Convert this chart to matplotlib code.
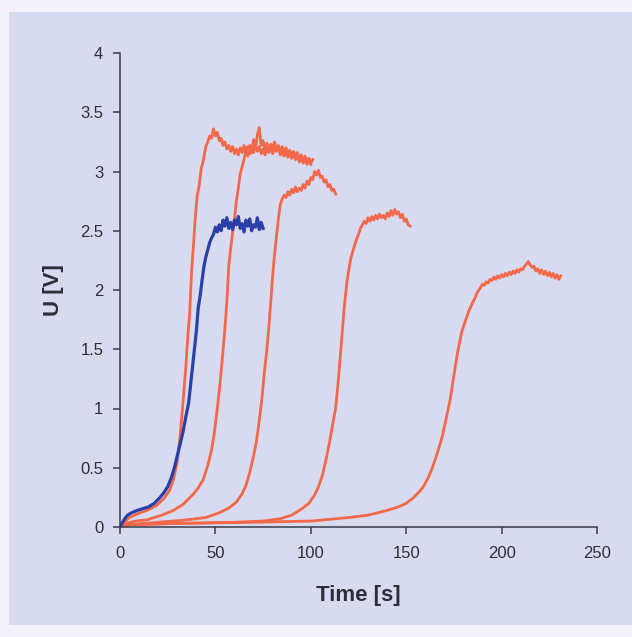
import matplotlib
matplotlib.use('Agg')
import matplotlib.pyplot as plt
from matplotlib.patches import Rectangle

# blue run (time in s, voltage in V)
blue_t = [0, 1, 2.5, 4, 6, 9, 12, 15, 18, 21, 23, 25, 27, 28.5, 30, 31.5, 33, 34.5, 36, 37, 38, 39,
          40, 41, 42, 43, 44, 45, 46, 47,
          48, 49, 50, 51, 52, 53, 54, 55, 56, 57, 58, 59, 60, 61, 62, 63, 64, 65, 66, 67, 68,
          69, 70, 71, 72, 73, 74, 75]
blue_u = [0.0, 0.03, 0.07, 0.10, 0.12, 0.14, 0.155, 0.17, 0.2, 0.25, 0.29, 0.34, 0.42, 0.5, 0.6,
          0.7, 0.8, 0.93, 1.05, 1.2, 1.35, 1.5, 1.65, 1.85, 1.95, 2.08, 2.2, 2.28, 2.34, 2.4,
          2.44, 2.47, 2.53, 2.49, 2.55, 2.50, 2.59, 2.54, 2.61, 2.52, 2.57, 2.51, 2.59, 2.55,
          2.62, 2.52, 2.56, 2.49, 2.59, 2.54, 2.60, 2.50, 2.55, 2.53, 2.61, 2.51, 2.57, 2.52]

# red runs
red1_t = [0, 2, 5, 9, 14, 19, 23, 26, 28, 30, 31.4, 32.5, 33.5, 34.5, 35.5, 36.5, 37.5, 38.5,
          39.5, 40.5, 41.5, 42.5, 43.5, 44.5,
          45, 46, 47, 48, 49, 50, 51, 52, 53, 54, 55, 56, 57, 58, 59, 60, 61, 62, 63, 64, 65,
          66, 67, 68, 69, 70, 71, 72, 73, 74, 75, 76, 77, 78, 79, 80, 81, 82, 83, 84, 85, 86,
          87, 88, 89, 90, 91, 92, 93, 94, 95, 96, 97, 98, 99, 100, 101]
red1_u = [0.0, 0.04, 0.08, 0.11, 0.14, 0.18, 0.24, 0.31, 0.40, 0.55, 0.75, 0.95, 1.15, 1.35,
          1.6, 1.8, 2.15, 2.38, 2.62, 2.8, 2.88, 3.02, 3.08, 3.17,
          3.21, 3.25, 3.30, 3.28, 3.36, 3.30, 3.33, 3.26, 3.28, 3.22, 3.25, 3.19, 3.22, 3.17,
          3.21, 3.15, 3.19, 3.14, 3.20, 3.16, 3.22, 3.17, 3.21, 3.15, 3.20, 3.16, 3.22, 3.17,
          3.21, 3.15, 3.19, 3.14, 3.20, 3.16, 3.21, 3.15, 3.19, 3.17, 3.21, 3.14, 3.18, 3.13,
          3.17, 3.12, 3.16, 3.11, 3.15, 3.10, 3.14, 3.08, 3.13, 3.07, 3.12, 3.06, 3.11, 3.07,
          3.10]

red2_t = [0, 3, 8, 14, 22, 28, 33, 38, 41, 43.6, 46, 48, 49.5, 51, 52.5, 54, 55, 56, 57, 58, 59,
          60, 61, 62, 63, 64,
          65, 66, 67, 68, 69, 70, 71, 72, 73, 74, 75, 76, 77, 78, 79, 80, 81, 82, 83, 84, 85,
          86, 87, 88, 89, 90, 91, 92, 93, 94, 95, 96, 97, 98, 99, 100]
red2_u = [0.0, 0.03, 0.05, 0.06, 0.10, 0.14, 0.19, 0.27, 0.33, 0.40, 0.52, 0.65, 0.8, 1.0, 1.22,
          1.49, 1.68, 1.9, 2.2, 2.35, 2.48, 2.6, 2.75, 2.86, 2.98, 3.04,
          3.10, 3.18, 3.13, 3.22, 3.16, 3.27, 3.19, 3.31, 3.37, 3.22, 3.26, 3.18, 3.24, 3.17,
          3.23, 3.19, 3.25, 3.18, 3.22, 3.16, 3.21, 3.15, 3.20, 3.14, 3.18, 3.13, 3.17, 3.12,
          3.16, 3.10, 3.14, 3.08, 3.13, 3.07, 3.11, 3.06]

red3_t = [0, 5, 20, 35, 45, 52, 57, 61, 64, 66, 68, 70, 71.6, 73, 74.3, 75.5, 76.9, 78, 79, 80,
          81, 82, 83,
          84, 85, 86, 87, 88, 89, 90, 91, 92, 93, 94, 95, 96, 97, 98, 99, 100, 101, 102, 103,
          104, 105, 106, 107, 108, 109, 110, 111, 112, 113]
red3_u = [0.0, 0.02, 0.04, 0.06, 0.08, 0.12, 0.16, 0.21, 0.28, 0.35, 0.46, 0.6, 0.73, 0.9, 1.07,
          1.28, 1.49, 1.68, 1.9, 2.12, 2.3, 2.45, 2.6,
          2.72, 2.77, 2.80, 2.78, 2.83, 2.80, 2.85, 2.82, 2.87, 2.83, 2.86, 2.84, 2.89, 2.86,
          2.92, 2.89, 2.95, 2.93, 3.00, 2.97, 3.01, 2.95, 2.96, 2.91, 2.93, 2.87, 2.89, 2.84,
          2.85, 2.81]

red4_t = [0, 5, 30, 60, 75, 84, 90, 95, 99, 102, 104, 106, 108, 110, 111.5, 113, 114.5, 116,
          117.5, 119, 121, 123,
          124, 125, 126, 127, 128, 129, 130, 131, 132, 133, 134, 135, 136, 137, 138, 139, 140,
          141, 142, 143, 144, 145, 146, 147, 148, 149, 150, 151, 152]
red4_u = [0.0, 0.02, 0.03, 0.04, 0.05, 0.07, 0.10, 0.15, 0.20, 0.27, 0.34, 0.43, 0.57, 0.73,
          0.87, 1.0, 1.25, 1.55, 1.85, 2.08, 2.27, 2.38,
          2.43, 2.47, 2.52, 2.55, 2.58, 2.56, 2.61, 2.58, 2.62, 2.59, 2.63, 2.60, 2.64, 2.61,
          2.63, 2.60, 2.65, 2.62, 2.67, 2.63, 2.68, 2.64, 2.66, 2.61, 2.64, 2.58, 2.60, 2.55,
          2.54]

red5_t = [0, 5, 30, 70, 100, 120, 130, 140, 146, 150, 154, 157, 159, 161, 163, 165, 167, 169,
          171, 173, 175, 177, 179, 181, 183, 185,
          186, 187, 188, 189, 190, 191, 192, 193, 194, 195, 196, 197, 198, 199, 200, 201, 202,
          203, 204, 205, 206, 207, 208, 209, 210, 211, 212, 213, 214, 215, 216, 217, 218, 219,
          220, 221, 222, 223, 224, 225, 226, 227, 228, 229, 230, 231]
red5_u = [0.0, 0.02, 0.03, 0.04, 0.05, 0.08, 0.10, 0.14, 0.17, 0.20, 0.25, 0.30, 0.34, 0.40,
          0.47, 0.56, 0.66, 0.77, 0.92, 1.07, 1.28, 1.48, 1.64, 1.74, 1.83, 1.90,
          1.93, 1.97, 2.00, 2.02, 2.05, 2.04, 2.07, 2.06, 2.09, 2.08, 2.11, 2.09, 2.12, 2.10,
          2.13, 2.11, 2.14, 2.12, 2.15, 2.13, 2.16, 2.14, 2.17, 2.15, 2.18, 2.17, 2.20, 2.22,
          2.24, 2.21, 2.19, 2.20, 2.16, 2.18, 2.14, 2.17, 2.13, 2.16, 2.12, 2.15, 2.11, 2.14,
          2.10, 2.13, 2.09, 2.12]

red_runs = [(red1_t, red1_u), (red2_t, red2_u), (red3_t, red3_u),
            (red4_t, red4_u), (red5_t, red5_u)]

x_ticks = [0, 50, 100, 150, 200, 250]
y_ticks = [0, 0.5, 1, 1.5, 2, 2.5, 3, 3.5, 4]
y_tick_labels = ['0', '0.5', '1', '1.5', '2', '2.5', '3', '3.5', '4']

RED = '#f26849'
BLUE = '#2a40a8'
BG = '#d8dbf0'
TXT = '#2e2e3a'

plt.rcParams['font.family'] = ['Liberation Sans', 'DejaVu Sans']

fig = plt.figure(figsize=(6.32, 6.37), dpi=100)
fig.patch.set_facecolor('#f2f2f8')
# lavender panel of the scanned page
fig.patches.append(Rectangle((9 / 632, 12 / 637), 1, 1 - 24 / 637,
                             transform=fig.transFigure, facecolor=BG,
                             edgecolor='none', zorder=-1))

ax = fig.add_axes([120 / 632, 1 - 527 / 637, 477 / 632, 474 / 637])
ax.set_facecolor(BG)

for t, u in red_runs:
    ax.plot(t, u, color=RED, linewidth=2.0, solid_joinstyle='round')
ax.plot(blue_t, blue_u, color=BLUE, linewidth=2.3, solid_joinstyle='round')

ax.set_xlim(0, 250)
ax.set_ylim(0, 4)
ax.set_xticks(x_ticks)
ax.set_yticks(y_ticks)
ax.set_yticklabels(y_tick_labels)

for side in ['top', 'right']:
    ax.spines[side].set_visible(False)
for side in ['left', 'bottom']:
    ax.spines[side].set_color('#3a3a48')
    ax.spines[side].set_linewidth(1.1)

ax.tick_params(direction='out', length=5, width=1.1, color='#3a3a48',
               labelsize=12, labelcolor=TXT, pad=7)
ax.tick_params(axis='x', pad=9)

ax.set_xlabel('Time [s]', fontsize=16, fontweight='bold', color=TXT, labelpad=17)
ax.set_ylabel('U [V]', fontsize=16, fontweight='bold', color=TXT, labelpad=12)

fig.savefig('out.png', dpi=100, facecolor=fig.get_facecolor())
